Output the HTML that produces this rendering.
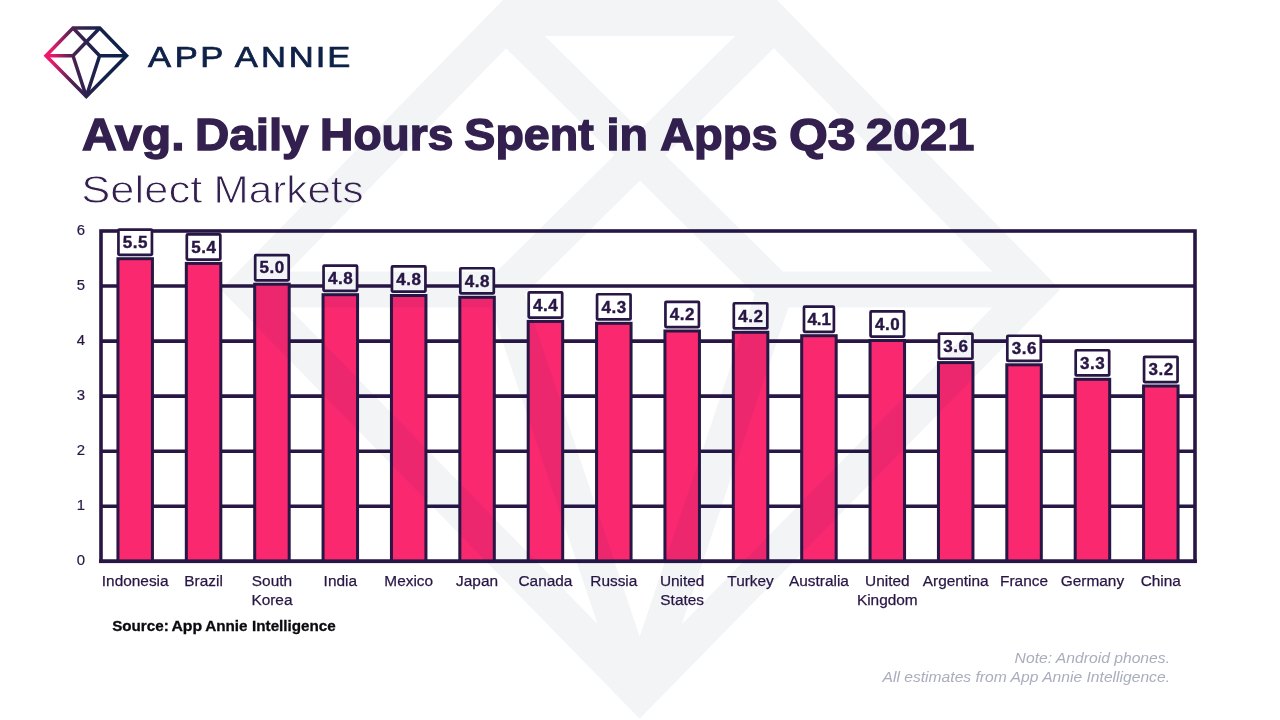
<!DOCTYPE html>
<html lang="en"><head><meta charset="utf-8"><title>Avg. Daily Hours Spent in Apps Q3 2021</title>
<style>html,body{margin:0;padding:0;background:#fff;}body{width:1280px;height:720px;overflow:hidden;}svg{display:block;}
text{font-family:"Liberation Sans",sans-serif;}
</style></head><body>
<svg width="1280" height="720" viewBox="0 0 1280 720">
<defs><linearGradient id="lg" gradientUnits="userSpaceOnUse" x1="44" y1="56" x2="129" y2="56"><stop offset="0" stop-color="#f0186d"/><stop offset="0.10" stop-color="#e61a6b"/><stop offset="0.205" stop-color="#a01f62"/><stop offset="0.28" stop-color="#6b2158"/><stop offset="0.34" stop-color="#4b2352"/><stop offset="0.5" stop-color="#2d2150"/><stop offset="0.66" stop-color="#13224a"/><stop offset="1" stop-color="#0d2147"/></linearGradient></defs>
<rect width="1280" height="720" fill="#ffffff"/>
<g fill="none" stroke="url(#lg)" stroke-width="3.5" stroke-linejoin="miter" stroke-miterlimit="10">
<path d="M46 55.75 L73 28 L99.7 28 L126.6 55.75 L86.3 96.6 Z"/>
<path d="M73 28 L99.6 55.75 M99.7 28 L73 55.75 M46 55.75 L73 55.75 M99.6 55.75 L126.6 55.75 M73 55.75 L86.3 96.6 M99.6 55.75 L86.3 96.6"/>
</g>
<text transform="scale(1.21,1)" x="122.22 144.44 165.54 179.81 194.08 215.75 238.57 260.92 270.57" y="67.5" font-size="28.6" fill="#0e2148" stroke="#0e2148" stroke-width="0.7">APP ANNIE</text>
<g font-size="44.6" font-weight="700" fill="#33204f" stroke="#33204f" stroke-width="1.4">
<text y="149.6"><tspan x="82.04" textLength="102.51" lengthAdjust="spacingAndGlyphs">Avg.</tspan> <tspan x="195.05" textLength="113.44" lengthAdjust="spacingAndGlyphs">Daily</tspan> <tspan x="320.1" textLength="133.28" lengthAdjust="spacingAndGlyphs">Hours</tspan> <tspan x="464.33" textLength="129.37" lengthAdjust="spacingAndGlyphs">Spent</tspan> <tspan x="606.53" textLength="41.39" lengthAdjust="spacingAndGlyphs">in</tspan> <tspan x="660.2" textLength="117.32" lengthAdjust="spacingAndGlyphs">Apps</tspan> <tspan x="789.09" textLength="66.51" lengthAdjust="spacingAndGlyphs">Q3</tspan> <tspan x="865.82" textLength="108.56" lengthAdjust="spacingAndGlyphs">2021</tspan></text>
</g>
<g font-size="39.6" fill="#33204f" stroke="#ffffff" stroke-width="0.9">
<text y="203"><tspan x="81.26" textLength="121.09" lengthAdjust="spacingAndGlyphs">Select</tspan> <tspan x="213.6" textLength="150.09" lengthAdjust="spacingAndGlyphs">Markets</tspan></text>
</g>
<g stroke="#281645" stroke-width="3.6" fill="none">
<line x1="101.0" y1="286.05" x2="1195.0" y2="286.05"/>
<line x1="101.0" y1="341.10" x2="1195.0" y2="341.10"/>
<line x1="101.0" y1="396.15" x2="1195.0" y2="396.15"/>
<line x1="101.0" y1="451.20" x2="1195.0" y2="451.20"/>
<line x1="101.0" y1="506.25" x2="1195.0" y2="506.25"/>
<rect x="101.0" y="231.0" width="1094.0" height="330.30"/>
</g>
<g font-size="14.9" fill="#281645" stroke="#281645" stroke-width="0.2" text-anchor="middle">
<text x="81" y="565.3">0</text>
<text x="81" y="510.2">1</text>
<text x="81" y="455.2">2</text>
<text x="81" y="400.1">3</text>
<text x="81" y="345.1">4</text>
<text x="81" y="290.1">5</text>
<text x="81" y="235.0">6</text>
</g>
<g stroke="#281645" stroke-width="3" fill="#f9286f">
<rect x="117.94" y="258.70" width="34.5" height="302.60"/>
<rect x="186.31" y="263.40" width="34.5" height="297.90"/>
<rect x="254.69" y="284.20" width="34.5" height="277.10"/>
<rect x="323.06" y="294.70" width="34.5" height="266.60"/>
<rect x="391.44" y="295.50" width="34.5" height="265.80"/>
<rect x="459.81" y="297.30" width="34.5" height="264.00"/>
<rect x="528.19" y="321.40" width="34.5" height="239.90"/>
<rect x="596.56" y="323.30" width="34.5" height="238.00"/>
<rect x="664.94" y="331.00" width="34.5" height="230.30"/>
<rect x="733.31" y="332.30" width="34.5" height="229.00"/>
<rect x="801.69" y="335.70" width="34.5" height="225.60"/>
<rect x="870.06" y="340.50" width="34.5" height="220.80"/>
<rect x="938.44" y="362.60" width="34.5" height="198.70"/>
<rect x="1006.81" y="364.80" width="34.5" height="196.50"/>
<rect x="1075.19" y="379.30" width="34.5" height="182.00"/>
<rect x="1143.56" y="386.00" width="34.5" height="175.30"/>
</g>
<line x1="99.0" y1="561.3" x2="1197.0" y2="561.3" stroke="#281645" stroke-width="3.6"/>
<g stroke="#281645" stroke-width="2.7" fill="#ffffff">
<rect x="118.44" y="229.65" width="33.50" height="25.20" rx="0.8"/>
<rect x="186.81" y="234.35" width="33.50" height="25.20" rx="0.8"/>
<rect x="255.19" y="255.15" width="33.50" height="25.20" rx="0.8"/>
<rect x="323.56" y="265.65" width="33.50" height="25.20" rx="0.8"/>
<rect x="391.94" y="266.45" width="33.50" height="25.20" rx="0.8"/>
<rect x="460.31" y="268.25" width="33.50" height="25.20" rx="0.8"/>
<rect x="528.69" y="292.35" width="33.50" height="25.20" rx="0.8"/>
<rect x="597.06" y="294.25" width="33.50" height="25.20" rx="0.8"/>
<rect x="665.44" y="301.95" width="33.50" height="25.20" rx="0.8"/>
<rect x="733.81" y="303.25" width="33.50" height="25.20" rx="0.8"/>
<rect x="803.99" y="306.65" width="29.90" height="25.20" rx="0.8"/>
<rect x="870.56" y="311.45" width="33.50" height="25.20" rx="0.8"/>
<rect x="938.94" y="333.55" width="33.50" height="25.20" rx="0.8"/>
<rect x="1007.31" y="335.75" width="33.50" height="25.20" rx="0.8"/>
<rect x="1075.69" y="350.25" width="33.50" height="25.20" rx="0.8"/>
<rect x="1144.06" y="356.95" width="33.50" height="25.20" rx="0.8"/>
</g>
<g font-size="17" font-weight="700" fill="#281645" stroke="#281645" stroke-width="0.4" text-anchor="middle" letter-spacing="0.5">
<text x="135.44" y="247.90">5.5</text>
<text x="203.81" y="252.60">5.4</text>
<text x="272.19" y="273.40">5.0</text>
<text x="340.56" y="283.90">4.8</text>
<text x="408.94" y="284.70">4.8</text>
<text x="477.31" y="286.50">4.8</text>
<text x="545.69" y="310.60">4.4</text>
<text x="614.06" y="312.50">4.3</text>
<text x="682.44" y="320.20">4.2</text>
<text x="750.81" y="321.50">4.2</text>
<text x="819.19" y="324.90" letter-spacing="-0.1">4.1</text>
<text x="887.56" y="329.70">4.0</text>
<text x="955.94" y="351.80">3.6</text>
<text x="1024.31" y="354.00">3.6</text>
<text x="1092.69" y="368.50">3.3</text>
<text x="1161.06" y="375.20">3.2</text>
</g>
<g font-size="15.4" fill="#281645" stroke="#281645" stroke-width="0.25" text-anchor="middle">
<text y="586"><tspan x="135.19" y="586">Indonesia</tspan></text>
<text y="586"><tspan x="203.56" y="586">Brazil</tspan></text>
<text y="586"><tspan x="271.94" y="586">South</tspan><tspan x="271.94" y="605">Korea</tspan></text>
<text y="586"><tspan x="340.31" y="586">India</tspan></text>
<text y="586"><tspan x="408.69" y="586">Mexico</tspan></text>
<text y="586"><tspan x="477.06" y="586">Japan</tspan></text>
<text y="586"><tspan x="545.44" y="586">Canada</tspan></text>
<text y="586"><tspan x="613.81" y="586">Russia</tspan></text>
<text y="586"><tspan x="682.19" y="586">United</tspan><tspan x="682.19" y="605">States</tspan></text>
<text y="586"><tspan x="750.56" y="586">Turkey</tspan></text>
<text y="586"><tspan x="818.94" y="586">Australia</tspan></text>
<text y="586"><tspan x="887.31" y="586">United</tspan><tspan x="887.31" y="605">Kingdom</tspan></text>
<text y="586"><tspan x="955.69" y="586">Argentina</tspan></text>
<text y="586"><tspan x="1024.06" y="586">France</tspan></text>
<text y="586"><tspan x="1092.44" y="586">Germany</tspan></text>
<text y="586"><tspan x="1160.81" y="586">China</tspan></text>
</g>
<text y="630.6" font-size="15.2" font-weight="700" fill="#0a0a10" stroke="#0a0a10" stroke-width="0.3"><tspan x="112.16" textLength="56.6" lengthAdjust="spacingAndGlyphs">Source:</tspan> <tspan x="171.42" textLength="30.82" lengthAdjust="spacingAndGlyphs">App</tspan> <tspan x="205.15" textLength="42.43" lengthAdjust="spacingAndGlyphs">Annie</tspan> <tspan x="252.06" textLength="83.7" lengthAdjust="spacingAndGlyphs">Intelligence</tspan></text>
<g font-size="15" font-style="italic" fill="#a9adbd" text-anchor="end">
<text x="1170" y="663.2" textLength="155.4" lengthAdjust="spacingAndGlyphs">Note: Android phones.</text>
<text x="1170" y="682.3" textLength="287.5" lengthAdjust="spacingAndGlyphs">All estimates from App Annie Intelligence.</text>
</g>
<g fill="none" stroke="#0e2248" stroke-opacity="1" opacity="0.05" stroke-width="36" stroke-linejoin="miter" stroke-miterlimit="10">
<path d="M245.7 289.5 L510.5 18 L769.5 18 L1035 289.5 L639.7 693 Z M501 18 L775.5 289.5 M779 18 L504 289.5 M245.7 289.5 L504 289.5 M775.5 289.5 L1035 289.5 M504 289.5 L639.7 693 M775.5 289.5 L639.7 693"/>
</g>
</svg></body></html>
